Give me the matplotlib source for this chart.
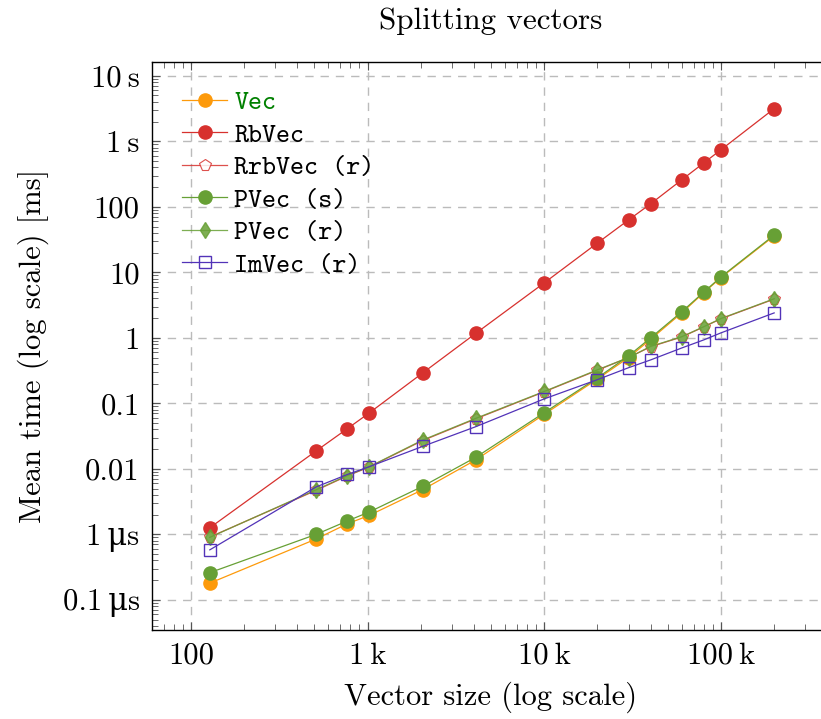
import matplotlib
matplotlib.use("Agg")
import matplotlib.pyplot as plt
from matplotlib.ticker import FixedLocator, FixedFormatter, LogLocator, NullFormatter
from matplotlib.font_manager import FontProperties

plt.rcParams['font.family'] = ['cmr10', 'DejaVu Serif']
plt.rcParams['mathtext.fontset'] = 'cm'
plt.rcParams['axes.formatter.use_mathtext'] = True
plt.rcParams['axes.unicode_minus'] = False

# vector sizes and mean times in ms
sizes = [128, 512, 768, 1024, 2048, 4096, 10000, 20000, 30000, 40000, 60000, 80000, 100000, 200000]
vec = [1.8e-4, 8.5e-4, 1.45e-3, 1.95e-3, 4.8e-3, 0.0137, 0.068, 0.235, 0.5, 0.95, 2.4, 4.9, 8.3, 36]
rbvec = [1.26e-3, 0.0188, 0.041, 0.0716, 0.29, 1.17, 6.9, 28, 63, 111, 258, 468, 742, 3150]
rrbvec = [9.1e-4, 4.7e-3, 7.8e-3, 0.0107, 0.027, 0.058, 0.15, 0.32, 0.5, 0.73, 1.03, 1.47, 1.95, 3.9]
pvec_s = [2.6e-4, 1.0e-3, 1.6e-3, 2.2e-3, 5.4e-3, 0.015, 0.072, 0.245, 0.53, 1.0, 2.5, 5.0, 8.5, 37]
pvec_r = [9.0e-4, 4.8e-3, 7.9e-3, 0.0108, 0.0275, 0.059, 0.152, 0.325, 0.5, 0.74, 1.04, 1.48, 1.97, 3.95]
imvec = [5.8e-4, 5.3e-3, 8.2e-3, 0.0108, 0.022, 0.044, 0.117, 0.23, 0.35, 0.46, 0.70, 0.93, 1.19, 2.4]

yticks = [1e-4, 1e-3, 1e-2, 1e-1, 1, 10, 100, 1e3, 1e4]
ytick_labels = ['0.1\u2009\u03bcs', '1\u2009\u03bcs', '0.01', '0.1', '1', '10', '100', '1\u2009s', '10\u2009s']
xticks = [100, 1000, 10000, 100000]
xtick_labels = ['100', '1\u2009k', '10\u2009k', '100\u2009k']

orange = '#fd9a0b'
red = '#d7312e'
green = '#67a035'
purple = '#5233b8'

fig = plt.figure(figsize=(8.21, 7.19), dpi=100)
ax = fig.add_axes([152 / 821, 1 - 630 / 719, 678 / 821, 568 / 719])

ax.plot(sizes, vec, color=orange, lw=0.9, marker='o', ms=9.5, mec=orange, mfc=orange, label='Vec')
ax.plot(sizes, rbvec, color=red, lw=0.9, marker='o', ms=9.5, mec=red, mfc=red, label='RbVec')
ax.plot(sizes, rrbvec, color=red, lw=0.9, alpha=0.85, marker='p', ms=8.5, mec=red, mfc='white', mew=0.8, label='RrbVec (r)')
ax.plot(sizes, pvec_s, color=green, lw=0.9, marker='o', ms=9.5, mec=green, mfc=green, label='PVec (s)')
ax.plot(sizes, pvec_r, color=green, lw=0.9, alpha=0.85, marker='d', ms=8.5, mec=green, mfc=green, label='PVec (r)')
ax.plot(sizes, imvec, color=purple, lw=0.9, marker='s', ms=9, mec=purple, mfc='none', mew=1.0, label='ImVec (r)')

ax.set_xscale('log')
ax.set_yscale('log')
ax.set_xlim(10 ** 1.78, 10 ** 5.617)
ax.set_ylim(10 ** -4.46, 10 ** 4.21)

ax.xaxis.set_major_locator(FixedLocator(xticks))
ax.xaxis.set_major_formatter(FixedFormatter(xtick_labels))
ax.yaxis.set_major_locator(FixedLocator(yticks))
ax.yaxis.set_major_formatter(FixedFormatter(ytick_labels))
ax.xaxis.set_minor_locator(LogLocator(base=10, subs=range(2, 10), numticks=20))
ax.yaxis.set_minor_locator(LogLocator(base=10, subs=range(2, 10), numticks=20))
ax.xaxis.set_minor_formatter(NullFormatter())
ax.yaxis.set_minor_formatter(NullFormatter())

ax.tick_params(which='both', direction='in', top=True, right=True, color='#555555', labelsize=22)
ax.tick_params(which='major', length=6, width=0.8, pad=9)
ax.tick_params(which='minor', length=4, width=0.6)
ax.grid(True, which='major', color='#bbbbbb', ls=(0, (6, 5)), lw=1.0)
for s in ax.spines.values():
    s.set_linewidth(1.0)

ax.set_title('Splitting vectors', fontsize=22.4, pad=24)
ax.set_xlabel('Vector size (log scale)', fontsize=22, labelpad=8)
ax.set_ylabel('Mean time (log scale) [ms]', fontsize=22, labelpad=10)

leg = ax.legend(loc='upper left', bbox_to_anchor=(0.044, 0.95), frameon=False,
                borderpad=0, borderaxespad=0, handlelength=1.7, handletextpad=0.25,
                labelspacing=0.29, prop=FontProperties(family=['cmtt10', 'DejaVu Sans Mono'], size=19.3))
leg.get_texts()[0].set_color('#008000')

fig.savefig('out.png', dpi=100)
